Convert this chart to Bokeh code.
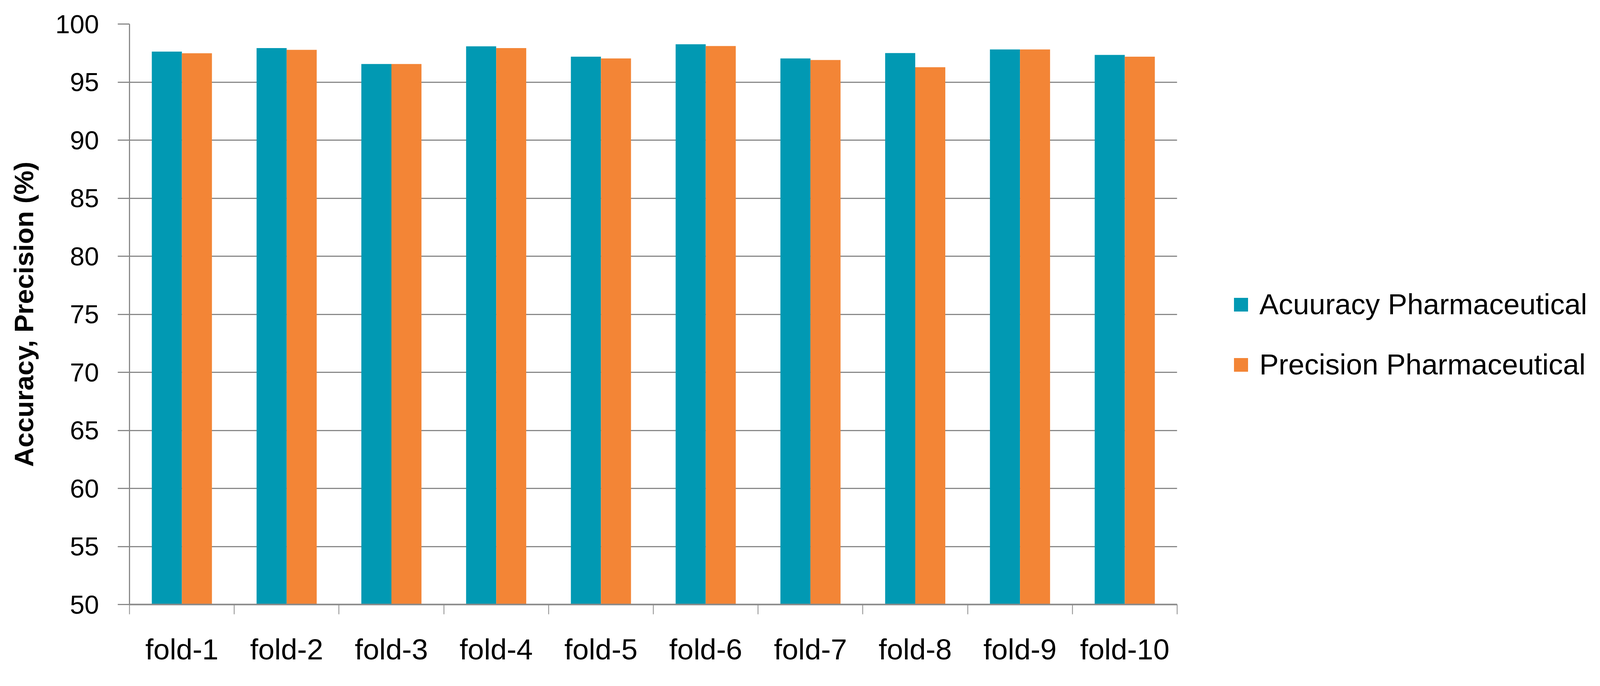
import numpy as np
from bokeh.plotting import figure
from bokeh.layouts import row
from bokeh.models import FixedTicker, Legend, LegendItem, ColumnDataSource, Range1d
from bokeh.embed import file_html
from bokeh.resources import INLINE

# ---- data ----
categories = ["fold-1", "fold-2", "fold-3", "fold-4", "fold-5",
              "fold-6", "fold-7", "fold-8", "fold-9", "fold-10"]
accuracy = [97.63, 97.93, 96.56, 98.08, 97.19, 98.26, 97.04, 97.50, 97.81, 97.34]
precision = [97.48, 97.78, 96.56, 97.93, 97.04, 98.11, 96.90, 96.28, 97.81, 97.19]
y_ticks = [50, 55, 60, 65, 70, 75, 80, 85, 90, 95, 100]
series_names = ["Acuuracy Pharmaceutical", "Precision Pharmaceutical"]
y_label = "Accuracy, Precision (%)"

# ---- style ----
TEAL = "#0199B3"
ORANGE = "#F38536"
GRAY = "#898989"
FONT = "Liberation Sans"
S = 1 / 1.015          # overall size factor


def px(v):
    return int(round(v * S))


def fs(v):
    return f"{v * S:.1f}px"


TOTAL_W = px(4166) - 16
TOTAL_H = px(1755) - 16
LEFT = px(344) - 8
TOP = px(62)
BOTTOM_Y = px(1577) - 8
P_W = px(3108) - 8
RIGHT = P_W - (px(3066) - 8)
BOTTOM = TOTAL_H - BOTTOM_Y

p = figure(width=P_W, height=TOTAL_H, output_backend="svg", toolbar_location=None,
           x_range=Range1d(0, len(categories)), y_range=Range1d(y_ticks[0], y_ticks[-1]),
           min_border_left=LEFT, min_border_right=RIGHT,
           min_border_top=TOP, min_border_bottom=BOTTOM)
p.outline_line_color = None
p.background_fill_color = "white"
p.border_fill_color = "white"

idx = np.arange(len(categories))
centers = idx + 0.5
bw = 0.287
src = ColumnDataSource(dict(xa=centers - bw / 2, xp=centers + bw / 2,
                            acc=accuracy, prec=precision))
r1 = p.vbar(x="xa", top="acc", bottom=y_ticks[0], width=bw, source=src,
            fill_color=TEAL, line_color=None)
r2 = p.vbar(x="xp", top="prec", bottom=y_ticks[0], width=bw, source=src,
            fill_color=ORANGE, line_color=None)

# x axis
xa = p.xaxis[0]
xa.ticker = FixedTicker(ticks=[float(c) for c in centers],
                        minor_ticks=[float(i) for i in range(len(categories) + 1)])
xa.major_label_overrides = {float(c): name for c, name in zip(centers, categories)}
xa.major_tick_in = 0
xa.major_tick_out = 0
xa.minor_tick_in = 0
xa.minor_tick_out = px(25)
xa.minor_tick_line_color = GRAY
xa.minor_tick_line_width = 2
xa.axis_line_color = GRAY
xa.axis_line_width = 4
xa.major_label_standoff = px(48)
xa.major_label_text_font = FONT
xa.major_label_text_font_size = fs(76)
xa.major_label_text_color = "black"

# y axis
ya = p.yaxis[0]
ya.ticker = FixedTicker(ticks=y_ticks)
ya.major_tick_in = 0
ya.major_tick_out = px(30)
ya.major_tick_line_color = GRAY
ya.major_tick_line_width = 3
ya.minor_tick_line_color = None
ya.axis_line_color = GRAY
ya.axis_line_width = 3
ya.major_label_standoff = px(49)
ya.major_label_text_font = FONT
ya.major_label_text_font_size = fs(68)
ya.major_label_text_color = "black"
ya.axis_label = y_label
ya.axis_label_text_font = FONT
ya.axis_label_text_font_style = "bold"
ya.axis_label_text_font_size = fs(70)
ya.axis_label_text_color = "black"
ya.axis_label_standoff = px(40)

p.xgrid.visible = False
p.ygrid.ticker = FixedTicker(ticks=y_ticks[1:])
p.ygrid.grid_line_color = GRAY
p.ygrid.grid_line_width = 3

# legend panel: separate figure on the right; its x range hides the bars,
# which only supply the legend swatches
P2_W = TOTAL_W - P_W
p2 = figure(width=P2_W, height=TOTAL_H, output_backend="svg", toolbar_location=None,
            x_range=Range1d(-3, -2), y_range=Range1d(y_ticks[0], y_ticks[-1]),
            x_axis_type=None, y_axis_type=None,
            min_border_left=0, min_border_right=0,
            min_border_top=TOP, min_border_bottom=BOTTOM)
p2.outline_line_color = None
p2.xgrid.visible = False
p2.ygrid.visible = False
la = p2.vbar(x="xa", top="acc", bottom=y_ticks[0], width=bw, source=src,
             fill_color=TEAL, line_color=None)
lp = p2.vbar(x="xp", top="prec", bottom=y_ticks[0], width=bw, source=src,
             fill_color=ORANGE, line_color=None)

LEG_FONT = 74
item_h = 1.139 * LEG_FONT
row1 = px(800) - 8
row2 = px(955) - 8
legend = Legend(items=[LegendItem(label=series_names[0], renderers=[la]),
                       LegendItem(label=series_names[1], renderers=[lp])],
                location=(px(3209) - 8 - P_W, int(round(BOTTOM_Y - (row2 + item_h / 2)))),
                orientation="vertical")
legend.margin = 0
legend.padding = 0
legend.spacing = int(round(row2 - row1 - item_h))
legend.glyph_width = px(46)
legend.glyph_height = px(45)
legend.label_height = px(45)
legend.label_standoff = px(25)
legend.label_text_font = FONT
legend.label_text_font_size = f"{LEG_FONT}px"
legend.label_text_color = "black"
legend.border_line_color = None
legend.background_fill_alpha = 0
p2.add_layout(legend)

layout = row(p, p2, spacing=0)
open("out.html", "w").write(file_html(layout, INLINE))
